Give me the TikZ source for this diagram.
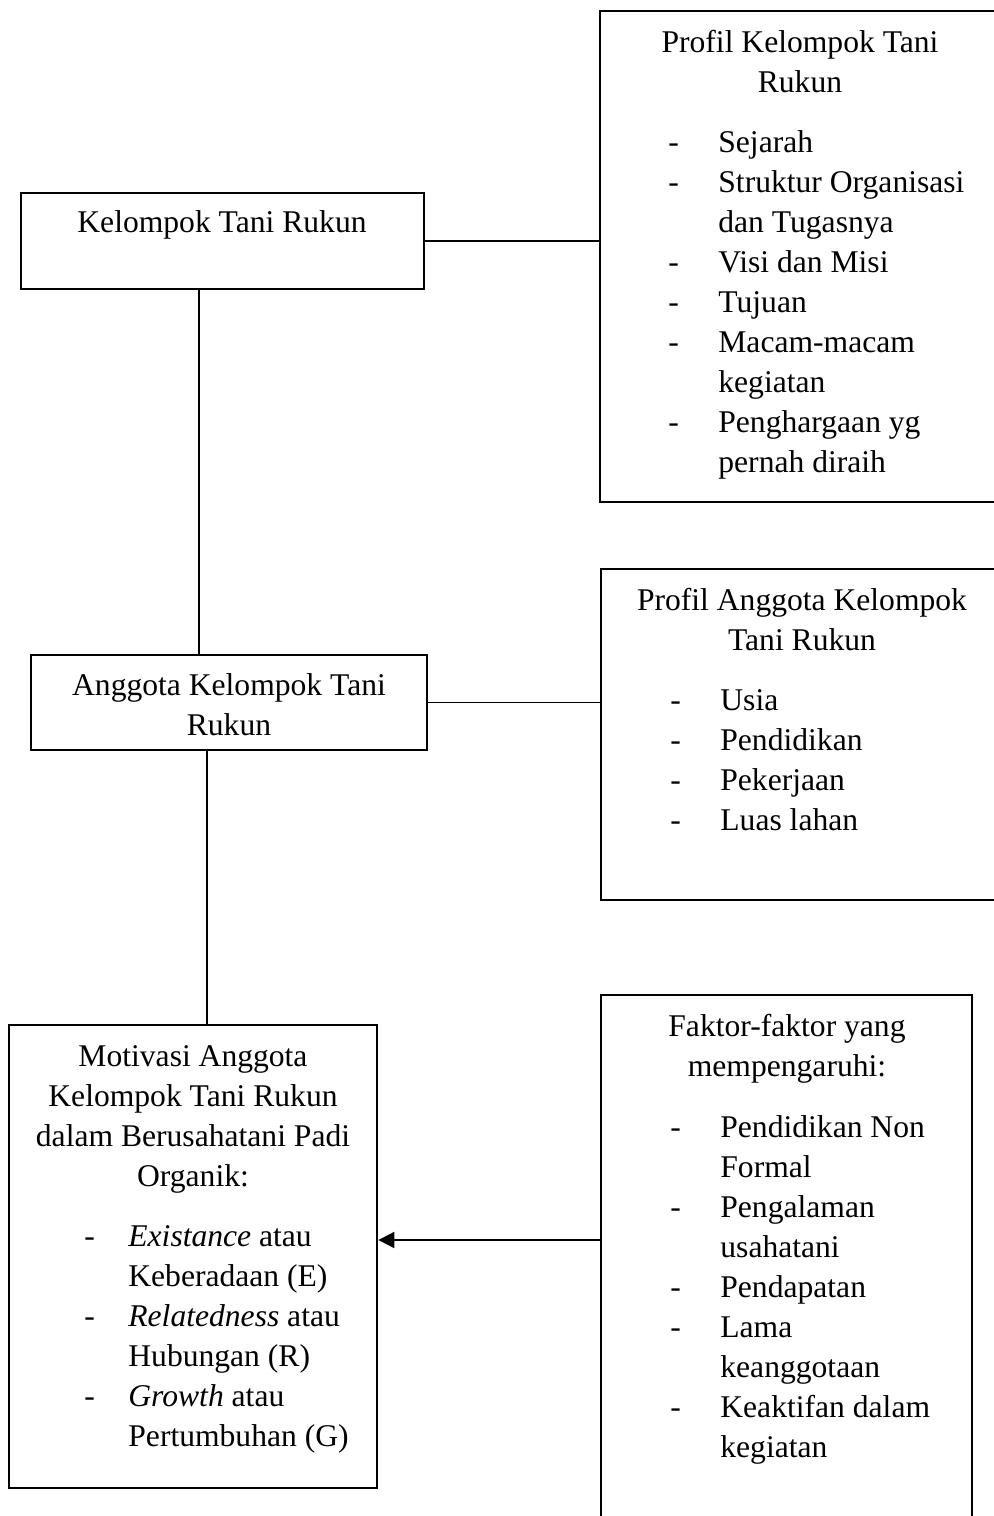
\documentclass[tikz,border=0pt]{standalone}
\usepackage{fontspec}
\setmainfont{Liberation Serif}
\usetikzlibrary{fit,arrows.meta}
\newlength\dashw
\setlength\dashw{25pt}
\newcommand\ctrlines[1]{\vtop{\halign{\hfil##\hfil\cr #1\crcr}}}
\newcommand\leftlines[1]{\vtop{\halign{##\hfil\cr #1\crcr}}}
\newcommand\dd{\makebox[\dashw][l]{-}}
\newcommand\ii{\hspace*{\dashw}}
\begin{document}
\begin{tikzpicture}[x=0.5pt,y=-0.5pt,
  box/.style={draw, line width=1.4pt, inner sep=0pt},
  txt/.style={inner sep=0pt, font=\fontsize{15.8}{20}\selectfont},
  conn/.style={line width=0.65pt},
  arr/.style={line width=1pt, -{Triangle[length=8pt,width=8pt]}}]
\useasboundingbox (0,0) rectangle (994,1516);
\clip (0,0) rectangle (994,1516);
\fill[white] (0,0) rectangle (994,1516);
% boxes
\node[box, fit={(21,193) (424,289)}] (b1) {};
\node[box, fit={(600,11) (1000,502)}] (b2) {};
\node[box, fit={(31,655) (427,750)}] (b3) {};
\node[box, fit={(601,569) (1000,900)}] (b4) {};
\node[box, fit={(9,1025) (377,1488)}] (b5) {};
\node[box, fit={(601,995) (972,1540)}] (b6) {};
% texts
\node[txt, anchor=base] (t1) at (222,232) {Kelompok Tani Rukun};
\node[txt, anchor=base] (t2) at (800,52) {\ctrlines{Profil Kelompok Tani\cr Rukun}};
\node[txt, anchor=base west] (l2) at (668,152) {\leftlines{\dd Sejarah\cr \dd Struktur Organisasi\cr \ii dan Tugasnya\cr \dd Visi dan Misi\cr \dd Tujuan\cr \dd Macam-macam\cr \ii kegiatan\cr \dd Penghargaan yg\cr \ii pernah diraih}};
\node[txt, anchor=base] (t3) at (229,695) {\ctrlines{Anggota Kelompok Tani\cr Rukun}};
\node[txt, anchor=base] (t4) at (802,610) {\ctrlines{Profil Anggota Kelompok\cr Tani Rukun}};
\node[txt, anchor=base west] (l4) at (670,710) {\leftlines{\dd Usia\cr \dd Pendidikan\cr \dd Pekerjaan\cr \dd Luas lahan}};
\node[txt, anchor=base] (t5) at (193,1066) {\ctrlines{Motivasi Anggota\cr Kelompok Tani Rukun\cr dalam Berusahatani Padi\cr Organik:}};
\node[txt, anchor=base west] (l5) at (84,1246) {\setlength\dashw{22pt}\leftlines{\dd\textit{Existance} atau\cr \ii Keberadaan (E)\cr \dd\textit{Relatedness} atau\cr \ii Hubungan (R)\cr \dd\textit{Growth} atau\cr \ii Pertumbuhan (G)}};
\node[txt, anchor=base] (t6) at (787,1036) {\ctrlines{Faktor-faktor yang\cr mempengaruhi:}};
\node[txt, anchor=base west] (l6) at (670,1137) {\leftlines{\dd Pendidikan Non\cr \ii Formal\cr \dd Pengalaman\cr \ii usahatani\cr \dd Pendapatan\cr \dd Lama\cr \ii keanggotaan\cr \dd Keaktifan dalam\cr \ii kegiatan}};
% connectors
\coordinate (v1) at (199,0);
\coordinate (v2) at (207,0);
\coordinate (ha) at (0,1240);
\draw[conn] (b1.east) -- (b1.east -| b2.west);
\draw[conn] (v1 |- b1.south) -- (v1 |- b3.north);
\draw[conn] (b3.east) -- (b3.east -| b4.west);
\draw[conn] (v2 |- b3.south) -- (v2 |- b5.north);
\draw[arr] (ha -| b6.west) -- (ha -| b5.east);
\end{tikzpicture}
\end{document}
